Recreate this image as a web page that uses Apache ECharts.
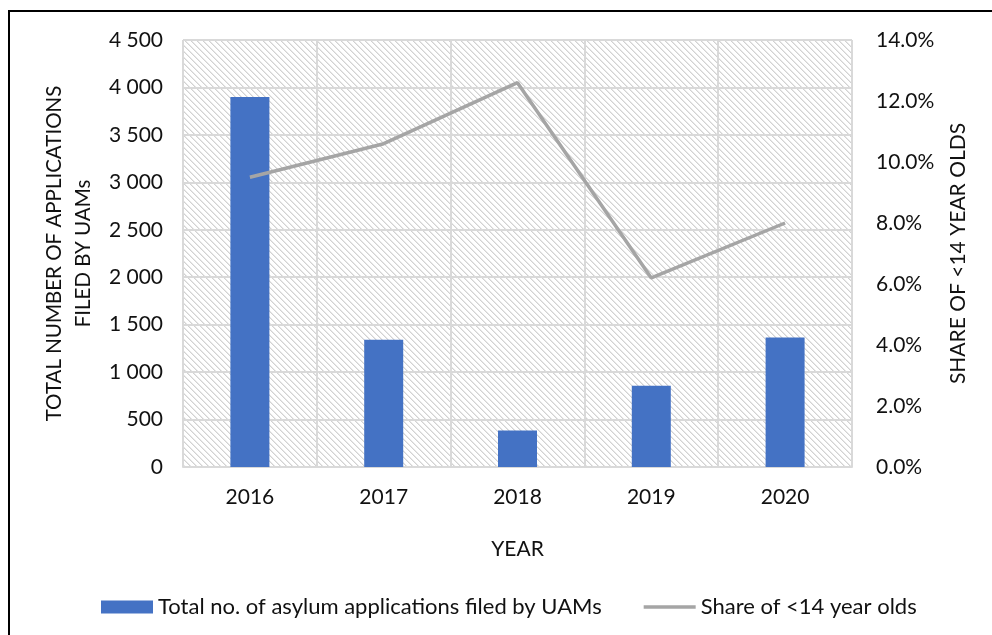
<!DOCTYPE html>
<html>
<head>
<meta charset="utf-8">
<script src="https://cdn.jsdelivr.net/npm/echarts@6/dist/echarts.min.js"></script>
<style>
  html, body { margin: 0; padding: 0; background: #fff; }
  #chart { width: 992px; height: 635px; }
</style>
</head>
<body>
<div id="chart"></div>
<script>
// Asylum applications by unaccompanied minors, 2016–2020
const years = ['2016', '2017', '2018', '2019', '2020'];
const applications = [3900, 1340, 385, 855, 1365];
const shareUnder14 = [9.5, 10.6, 12.6, 6.2, 8.0];
const leftTicks = { min: 0, max: 4500, interval: 500 };
const rightTicks = { min: 0, max: 14, interval: 2 };

// Light diagonal hatch for the plot background
function hatchTile() {
  const size = 6;
  const c = document.createElement('canvas');
  c.width = size; c.height = size;
  const ctx = c.getContext('2d');
  ctx.fillStyle = '#ffffff';
  ctx.fillRect(0, 0, size, size);
  for (let y = 0; y < size; y++) {
    for (let x = 0; x < size; x++) {
      const d = ((x - y) % size + size) % size;
      if (d === 0) { ctx.fillStyle = '#d2d2d2'; ctx.fillRect(x, y, 1, 1); }
      else if (d === 1) { ctx.fillStyle = '#e8e8e8'; ctx.fillRect(x, y, 1, 1); }
    }
  }
  return c;
}

const font = 'Lato, "Liberation Sans", sans-serif';
const fs = 21;
const textColor = '#111';
const gridColor = '#d9d9d9';
const lineColor = '#a5a5a5';

const chart = echarts.init(document.getElementById('chart'), null, { renderer: 'canvas' });

chart.setOption({
  backgroundColor: '#fff',
  animation: false,
  textStyle: { fontFamily: font, color: textColor },
  graphic: [{
    type: 'rect',
    shape: { x: 9, y: 11, width: 1000, height: 700 },
    style: { fill: 'none', stroke: '#000', lineWidth: 2 },
    silent: true,
    z: 100
  }],
  grid: {
    left: 183, right: 140, top: 40, bottom: 168,
    show: true,
    borderWidth: 0,
    backgroundColor: { image: hatchTile(), repeat: 'repeat' }
  },
  legend: {
    top: 591,
    left: 96,
    itemWidth: 52,
    itemHeight: 13,
    itemGap: 42,
    textStyle: { fontFamily: font, fontSize: 22, color: textColor },
    data: [
      { name: 'Total no. of asylum applications filed by UAMs', icon: 'rect' },
      { name: 'Share of <14 year olds', icon: 'path://M0,0H52V3.5H0Z', itemStyle: { color: lineColor } }
    ]
  },
  xAxis: {
    type: 'category',
    data: years,
    boundaryGap: true,
    name: 'YEAR',
    nameLocation: 'middle',
    nameGap: 72,
    nameTextStyle: { fontFamily: font, fontSize: fs, color: textColor },
    axisLine: { show: true, lineStyle: { color: gridColor, width: 2 } },
    axisTick: { show: false },
    axisLabel: { fontFamily: font, fontSize: fs, color: textColor, margin: 20 },
    splitLine: { show: true, lineStyle: { color: gridColor, width: 2 } }
  },
  yAxis: [{
    type: 'value',
    min: leftTicks.min, max: leftTicks.max, interval: leftTicks.interval,
    name: 'TOTAL NUMBER OF APPLICATIONS\nFILED BY UAMs',
    nameLocation: 'middle',
    nameRotate: 90,
    nameGap: 72,
    nameTextStyle: { fontFamily: font, fontSize: 20.5, color: textColor, lineHeight: 29 },
    axisLine: { show: false },
    axisTick: { show: false },
    axisLabel: {
      fontFamily: font, fontSize: fs, color: textColor, margin: 20,
      formatter: v => String(v).replace(/\B(?=(\d{3})+(?!\d))/g, ' ')
    },
    splitLine: { show: true, lineStyle: { color: gridColor, width: 2 } }
  }, {
    type: 'value',
    position: 'right',
    min: rightTicks.min, max: rightTicks.max, interval: rightTicks.interval,
    name: 'SHARE OF <14 YEAR OLDS',
    nameLocation: 'middle',
    nameRotate: 90,
    nameGap: 96,
    nameTextStyle: { fontFamily: font, fontSize: fs, color: textColor },
    axisLine: { show: false },
    axisTick: { show: false },
    axisLabel: {
      fontFamily: font, fontSize: fs, color: textColor, margin: 24,
      formatter: v => v.toFixed(1) + '%'
    },
    splitLine: { show: false }
  }],
  series: [{
    name: 'Total no. of asylum applications filed by UAMs',
    type: 'bar',
    yAxisIndex: 0,
    data: applications,
    barWidth: 39,
    itemStyle: { color: '#4472c4' }
  }, {
    name: 'Share of <14 year olds',
    type: 'line',
    yAxisIndex: 1,
    data: shareUnder14,
    symbol: 'none',
    lineStyle: { color: lineColor, width: 3.5 },
    itemStyle: { color: lineColor },
    z: 5
  }]
});
</script>
</body>
</html>
